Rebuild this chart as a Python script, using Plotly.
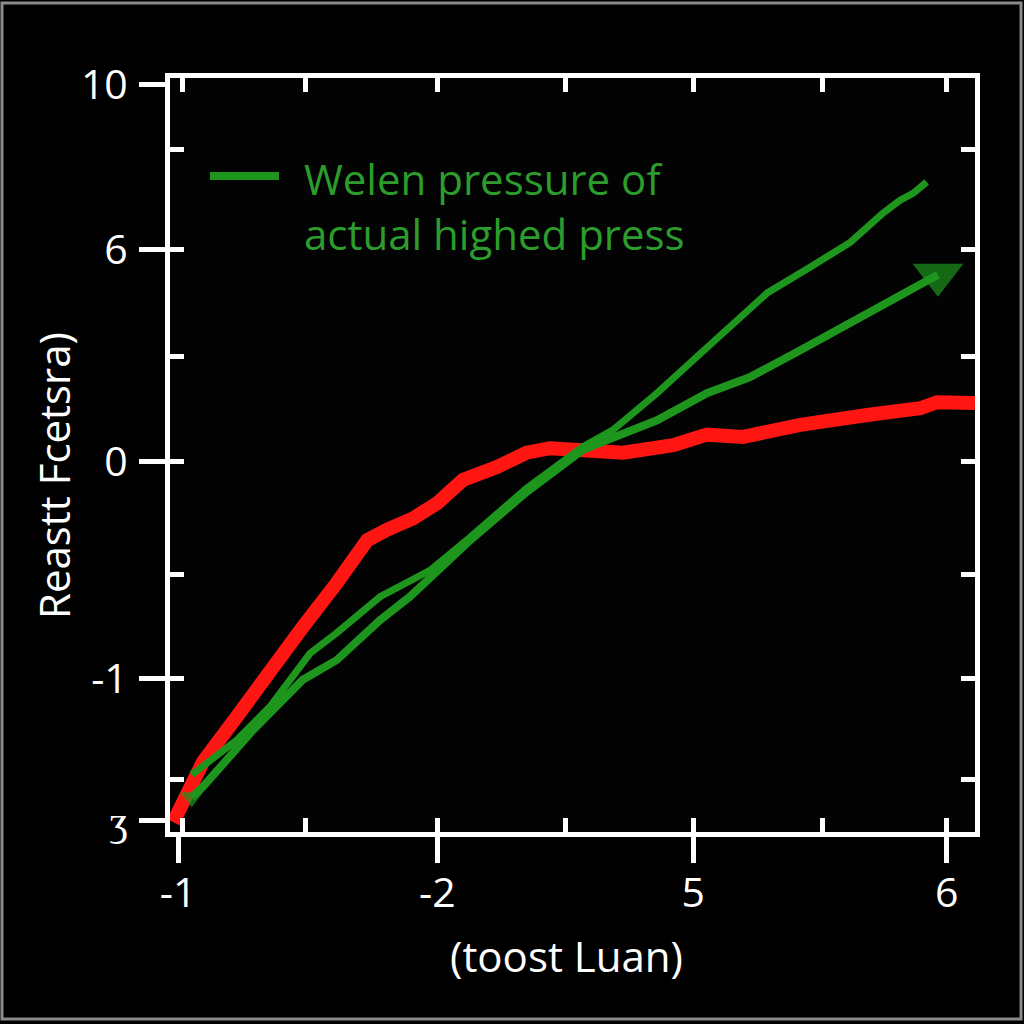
import plotly.graph_objects as go

# ---- data (in the chart's own axis units) ----
red_x = [0.04, 0.41, 0.83, 1.24, 1.65, 2.07, 2.45, 2.70, 3.02, 3.32, 3.64, 4.06, 4.43, 4.72,
         5.22, 5.63, 6.25, 6.67, 7.12, 7.83, 8.66, 9.32, 9.53, 10.0]
red_y = [0.13, 0.93, 1.53, 2.15, 2.72, 3.30, 3.87, 4.01, 4.16, 4.36, 4.67, 4.84, 5.03, 5.09,
         5.04, 5.03, 5.13, 5.27, 5.24, 5.40, 5.53, 5.62, 5.70, 5.69]

greenA_x = [0.27, 0.83, 1.24, 1.74, 2.07, 2.61, 3.23, 3.73, 4.43, 5.13, 5.50, 6.05, 6.46,
            6.99, 7.42, 7.95, 8.45, 8.86, 9.07, 9.23, 9.40]
greenA_y = [0.76, 1.22, 1.66, 2.37, 2.64, 3.12, 3.47, 3.91, 4.56, 5.11, 5.33, 5.82, 6.22,
            6.75, 7.15, 7.49, 7.82, 8.21, 8.38, 8.47, 8.62]

greenB_x = [0.27, 0.41, 1.03, 1.65, 2.07, 2.61, 2.98, 3.32, 3.73, 4.43, 5.13, 5.43, 6.05,
            6.67, 7.20, 7.83, 8.45, 9.07, 9.48, 9.54]
greenB_y = [0.46, 0.60, 1.35, 2.02, 2.28, 2.81, 3.12, 3.47, 3.87, 4.51, 5.07, 5.20, 5.46,
            5.82, 6.03, 6.39, 6.75, 7.10, 7.36, 7.39]

x_tick_vals = [0.10, 3.32, 6.50, 9.65]
x_tick_text = ["-1", "-2", "5", "6"]
x_minor_vals = [0.15, 1.68, 3.32, 4.91, 6.50, 8.10, 9.65]

y_tick_vals = [9.91, 7.72, 4.91, 2.04, 0.15]
y_tick_text = ["10", "6", "0", "-1", "ʒ"]
y_minor_vals = [9.05, 7.72, 6.30, 4.91, 3.42, 2.04, 0.69]

legend_text = "Welen pressure of<br>actual highed press"
x_title = "(toost Luan)"
y_title = "Reastt Fcetsra)"

RED = "rgb(255,22,18)"
GREEN = "rgb(30,150,30)"
GREEN_TXT = "rgb(44,156,44)"
WHITE = "#ffffff"
FONT = "Open Sans"

fig = go.Figure()

fig.add_trace(go.Scatter(x=red_x, y=red_y, mode="lines",
                         line=dict(color=RED, width=14), showlegend=False))
fig.add_trace(go.Scatter(x=greenA_x, y=greenA_y, mode="lines",
                         line=dict(color=GREEN, width=7), showlegend=False))
n = len(greenB_x)
b_sizes = [20] + [0] * (n - 2) + [44]
b_symbols = ["triangle-down"] + ["circle"] * (n - 2) + ["triangle-down"]
fig.add_trace(go.Scatter(x=greenB_x, y=greenB_y, mode="lines+markers",
                         line=dict(color=GREEN, width=8),
                         marker=dict(size=b_sizes, symbol=b_symbols,
                                     color=GREEN, line=dict(width=0)),
                         showlegend=False))
# invisible trace to hold the overlay axes
fig.add_trace(go.Scatter(x=[0], y=[0], xaxis="x2", yaxis="y2", mode="markers",
                         marker=dict(opacity=0), showlegend=False, hoverinfo="skip"))

L, R, T, B = 170, 49, 78, 192
PW, PH = 1024 - L - R, 1024 - T - B

def px(xp):
    return (xp - L) / PW

def py(yp):
    return (1024 - B - yp) / PH

axis_common = dict(range=[0, 10], showgrid=False, zeroline=False,
                   showline=True, linecolor=WHITE, linewidth=5,
                   tickcolor=WHITE, tickwidth=5)

fig.update_layout(
    width=1024, height=1024,
    paper_bgcolor="#000000", plot_bgcolor="#030303",
    margin=dict(l=L, r=R, t=T, b=B, autoexpand=False),
    xaxis=dict(**axis_common, mirror=True, ticks="outside", ticklen=26,
               tickmode="array", tickvals=x_tick_vals, ticktext=x_tick_text,
               tickfont=dict(family=FONT, size=41, color=WHITE),
               ticklabelstandoff=-5),
    yaxis=dict(**axis_common, mirror=True, ticks="outside", ticklen=26,
               tickmode="array", tickvals=y_tick_vals, ticktext=y_tick_text,
               tickfont=dict(family=FONT, size=41, color=WHITE),
               ticklabelstandoff=3),
    xaxis2=dict(**axis_common, overlaying="x", anchor="y2", side="bottom",
                mirror="ticks", ticks="inside", ticklen=14,
                tickmode="array", tickvals=x_minor_vals, showticklabels=False),
    yaxis2=dict(**axis_common, overlaying="y", anchor="x2", side="left",
                mirror="ticks", ticks="inside", ticklen=14,
                tickmode="array", tickvals=y_minor_vals, showticklabels=False),
    showlegend=False,
)

# legend drawn as a line sample + text
fig.add_shape(type="line", xref="paper", yref="paper",
              x0=px(210), x1=px(279), y0=py(176), y1=py(176),
              line=dict(color=GREEN, width=8))
fig.add_annotation(xref="paper", yref="paper", x=px(302), y=py(148),
                   xanchor="left", yanchor="top", align="left", showarrow=False,
                   text=legend_text,
                   font=dict(family=FONT, size=42, color=GREEN_TXT))

# axis titles
fig.add_annotation(xref="paper", yref="paper", x=px(566), y=py(955),
                   xanchor="center", yanchor="middle", showarrow=False,
                   text=x_title, font=dict(family=FONT, size=42, color=WHITE))
fig.add_annotation(xref="paper", yref="paper", x=px(53), y=py(475),
                   xanchor="center", yanchor="middle", showarrow=False, textangle=-90,
                   text=y_title, font=dict(family=FONT, size=42, color=WHITE))

# outer frame of the picture
fig.add_shape(type="rect", xref="paper", yref="paper", layer="above",
              x0=px(2), x1=px(1021), y0=py(1019), y1=py(3),
              line=dict(color="#8a8a8a", width=3))

fig.write_html("out.html", config={"displayModeBar": False},
               post_script="document.body.style.margin='0px';document.body.style.overflow='hidden';")
